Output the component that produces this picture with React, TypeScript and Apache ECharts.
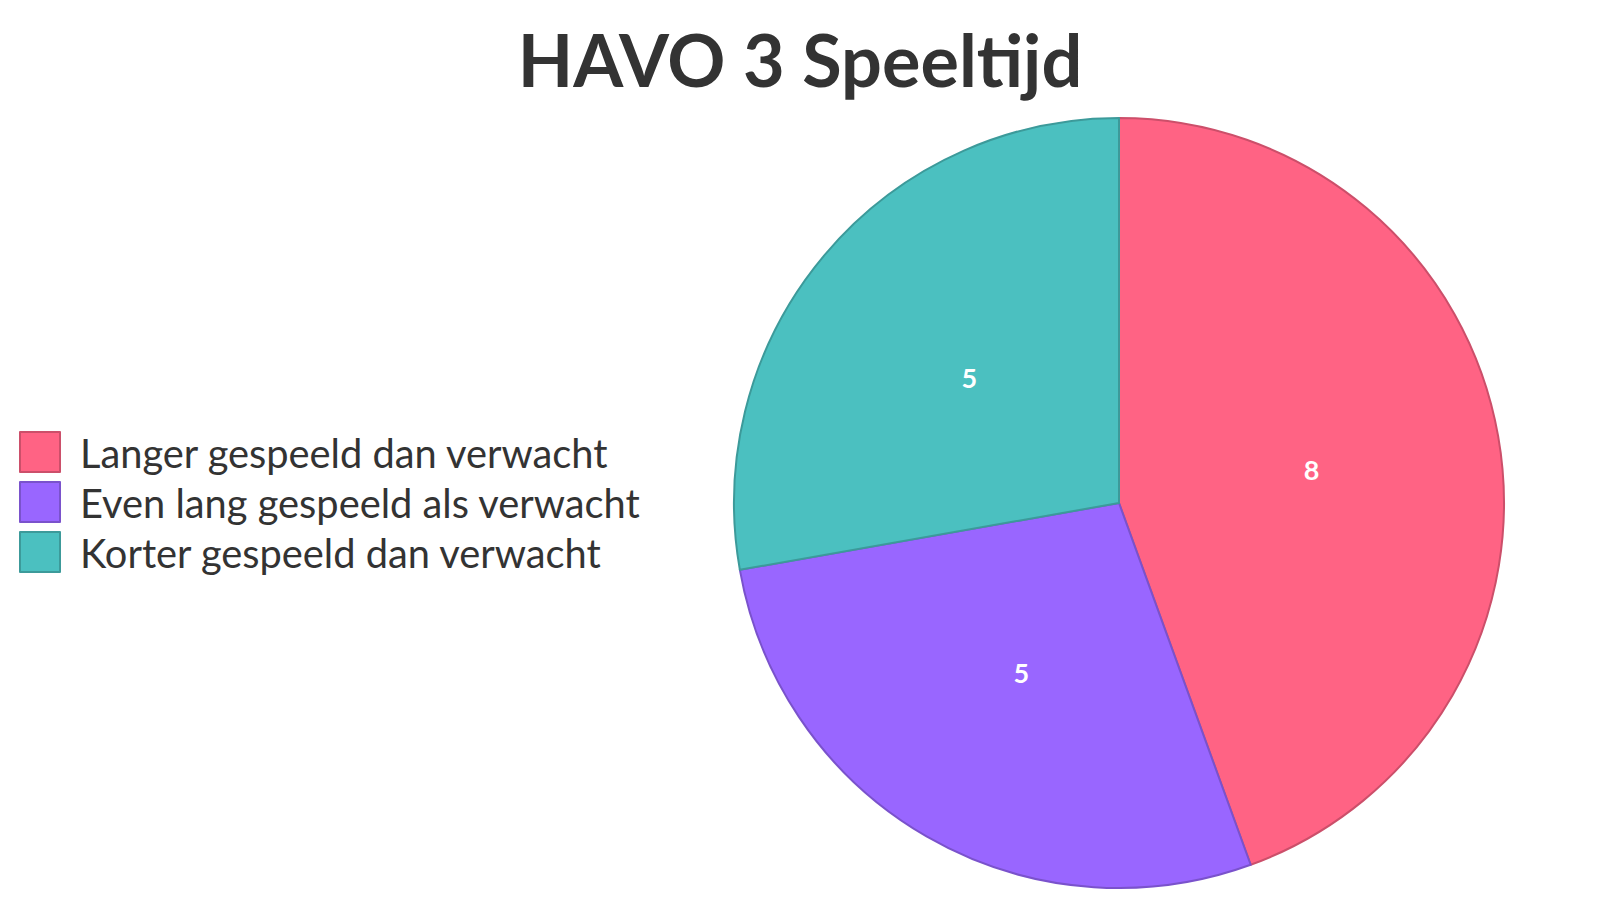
import React, { useEffect, useRef } from "react";
import * as echarts from "echarts";

const categories = [
  "Langer gespeeld dan verwacht",
  "Even lang gespeeld als verwacht",
  "Korter gespeeld dan verwacht",
];
const values = [8, 5, 5];
const fillColors = ["#FF6384", "#9966FF", "#4BC0C0"];
const borderColors = ["#CC4F6A", "#7A52CC", "#3C9A9A"];
const titleText = "HAVO 3 Speeltijd";

export default function App() {
  const ref = useRef<HTMLDivElement>(null);
  useEffect(() => {
    if (!ref.current) return;
    const chart = echarts.init(ref.current, undefined, { renderer: "svg" });
    chart.setOption({
      animation: false,
      title: {
        text: titleText,
        left: "center",
        top: 10,
        textStyle: {
          fontFamily: "Lato",
          fontWeight: "bold",
          fontSize: 72,
          color: "#333333",
        },
      },
      legend: {
        orient: "vertical",
        left: 11,
        top: 423,
        padding: 0,
        itemWidth: 40,
        itemHeight: 40,
        itemGap: 8,
        icon: "rect",
        textStyle: {
          fontFamily: "Lato",
          fontSize: 39.8,
          color: "#333333",
          padding: [0, 0, 0, 15],
        },
        data: categories,
      },
      series: [
        {
          type: "pie",
          center: [1111, 495],
          radius: 385,
          startAngle: 90,
          clockwise: true,
          label: {
            show: true,
            position: "inside",
            formatter: "{c}",
            color: "#ffffff",
            fontFamily: "Lato",
            fontSize: 27,
            fontWeight: "bold",
          },
          labelLine: { show: false },
          emphasis: { disabled: true },
          data: categories.map((name, i) => ({
            name,
            value: values[i],
            itemStyle: {
              color: fillColors[i],
              borderColor: borderColors[i],
              borderWidth: 2,
            },
          })),
        },
      ],
    });
    return () => chart.dispose();
  }, []);
  return <div ref={ref} style={{ width: 1584, height: 884 }} />;
}
